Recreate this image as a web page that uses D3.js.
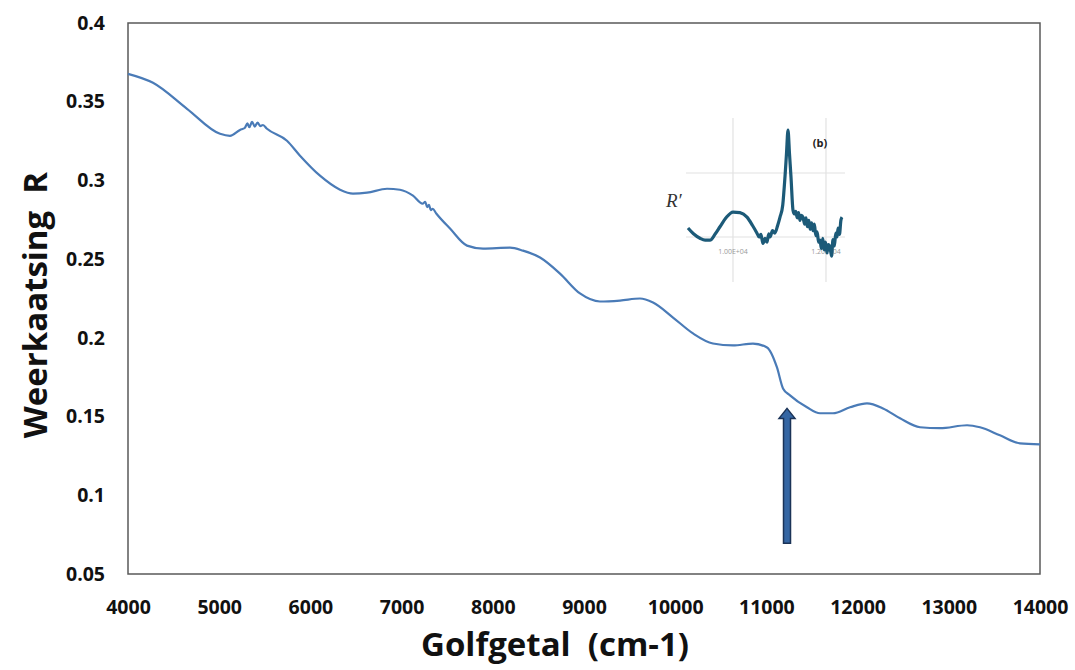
<!DOCTYPE html>
<html>
<head>
<meta charset="utf-8">
<script src="https://cdn.jsdelivr.net/npm/d3@7"></script>
<style>
  body { margin: 0; background: #fff; }
  text { font-family: "Open Sans", "DejaVu Sans", sans-serif; white-space: pre; }
</style>
</head>
<body>
<div id="chart"></div>
<script>
// Main spectrum: wavenumber (cm-1) and reflectance R
const wavenumbers = [4000, 4274, 4647, 5009, 5118, 5228, 5280, 5310, 5330, 5360, 5390, 5420, 5450, 5480, 5524,
  5743, 5886, 6105, 6325, 6467, 6621, 6840, 6982, 7125, 7230, 7260, 7280, 7300, 7320, 7340, 7380,
  7531, 7717, 7893, 8189, 8331, 8518, 8737, 8956, 9175, 9395, 9614, 9757, 9976, 10195, 10414,
  10634, 10853, 11007, 11116, 11182, 11259, 11445, 11588, 11730, 11917, 12103, 12279, 12465,
  12684, 12904, 13200, 13342, 13561, 13781, 14000];
const reflectance = [0.3677, 0.3620, 0.3455, 0.3296, 0.3283, 0.3321, 0.3333, 0.3362, 0.3338, 0.3372, 0.3342, 0.3368, 0.3345, 0.3352, 0.3328,
  0.3252, 0.3157, 0.3030, 0.2941, 0.2916, 0.2922, 0.2947, 0.2941, 0.2903, 0.2852, 0.2864, 0.2830, 0.2845, 0.2812, 0.2820, 0.2790,
  0.2694, 0.2586, 0.2567, 0.2573, 0.2554, 0.2510, 0.2408, 0.2282, 0.2231, 0.2237, 0.2250, 0.2224, 0.2129, 0.2028, 0.1964,
  0.1952, 0.1964, 0.1939, 0.1812, 0.1679, 0.1635, 0.1559, 0.1521, 0.1521, 0.1559, 0.1584, 0.1552, 0.1489,
  0.1432, 0.1426, 0.1445, 0.1432, 0.1381, 0.1330, 0.1324];

const xTicks = [4000, 5000, 6000, 7000, 8000, 9000, 10000, 11000, 12000, 13000, 14000];
const yTicks = [0.05, 0.1, 0.15, 0.2, 0.25, 0.3, 0.35, 0.4];
const yTickLabels = ["0.05", "0.1", "0.15", "0.2", "0.25", "0.3", "0.35", "0.4"];

// Arrow pointing at the shoulder
const arrowAt = 11226;
const arrowFrom = 0.0696;
const arrowTo = 0.1552;

// Inset (b): derivative R'
const insetWavenumbers = [9032, 9150, 9290, 9400, 9505, 9620, 9720, 9850, 10000, 10150, 10301, 10420, 10516,
  10560, 10600, 10645, 10690, 10730, 10770, 10796, 10850, 10900, 10960, 11011, 11070, 11118, 11150, 11183,
  11215, 11247, 11290, 11320, 11350, 11380, 11410, 11440, 11470, 11505, 11540, 11570, 11600, 11630, 11660,
  11690, 11720, 11750, 11780, 11810, 11840, 11871, 11900, 11930, 11960, 11990, 12022, 12050, 12086, 12120,
  12150, 12180, 12210, 12237, 12260, 12290, 12320, 12344];
const insetValues = [0.14, 0.05, -0.02, -0.05, -0.05, 0.05, 0.16, 0.30, 0.39, 0.38, 0.31, 0.18, 0.06,
  0.00, 0.04, -0.10, -0.02, -0.08, 0.05, 0.00, 0.10, 0.06, 0.18, 0.31, 0.50, 0.94, 1.30, 1.67,
  1.30, 0.94, 0.42, 0.36, 0.40, 0.30, 0.38, 0.26, 0.34, 0.31, 0.20, 0.30, 0.16, 0.26, 0.12,
  0.22, 0.10, 0.20, 0.02, 0.08, -0.08, -0.05, -0.18, -0.02, -0.20, -0.08, -0.25, -0.12, -0.16, -0.30,
  -0.04, -0.14, 0.06, 0.00, 0.14, 0.04, 0.26, 0.31];
const insetXTicks = [10000, 12000];
const insetXTickLabels = ["1.00E+04", "1.20E+04"];
const insetYGrid = [0, 1];

const width = 1075, height = 670;
const margin = { top: 23, right: 35, bottom: 96, left: 128 };
const innerW = width - margin.left - margin.right;
const innerH = height - margin.top - margin.bottom;

const svg = d3.select("#chart").append("svg")
  .attr("width", width)
  .attr("height", height);

const g = svg.append("g").attr("transform", `translate(${margin.left},${margin.top})`);

const x = d3.scaleLinear().domain([4000, 14000]).range([0, innerW]);
const y = d3.scaleLinear().domain([0.05, 0.4]).range([innerH, 0]);

// Plot frame
g.append("rect")
  .attr("width", innerW).attr("height", innerH)
  .attr("fill", "none").attr("stroke", "#595959").attr("stroke-width", 1.5);

// Axes (labels only, no tick marks)
const xAxis = g.append("g")
  .attr("transform", `translate(0,${innerH})`)
  .call(d3.axisBottom(x).tickValues(xTicks).tickSize(0).tickPadding(26).tickFormat(d3.format("d")));
xAxis.select(".domain").remove();
xAxis.selectAll("text").attr("font-size", 19.5).attr("font-weight", "bold").attr("fill", "#111");

const yAxis = g.append("g")
  .call(d3.axisLeft(y).tickValues(yTicks).tickSize(0).tickPadding(23).tickFormat((d, i) => yTickLabels[i]));
yAxis.select(".domain").remove();
yAxis.selectAll("text").attr("font-size", 19.5).attr("font-weight", "bold").attr("fill", "#111");

// Axis titles
svg.append("text")
  .attr("x", 555).attr("y", 656)
  .attr("text-anchor", "middle")
  .attr("font-size", 33).attr("font-weight", "bold").attr("fill", "#111")
  .text("Golfgetal  (cm-1)");

svg.append("text")
  .attr("transform", "translate(47,305) rotate(-90)")
  .attr("text-anchor", "middle")
  .attr("font-size", 33).attr("font-weight", "bold").attr("fill", "#111")
  .text("Weerkaatsing  R");

// Spectrum line
const spectrum = wavenumbers.map((w, i) => ({ w, r: reflectance[i] }));
g.append("path")
  .datum(spectrum)
  .attr("fill", "none")
  .attr("stroke", "#4a7bb7")
  .attr("stroke-width", 2.2)
  .attr("d", d3.line().x(d => x(d.w)).y(d => y(d.r)).curve(d3.curveMonotoneX));

// Arrow
const ax = x(arrowAt), ay0 = y(arrowFrom), ay1 = y(arrowTo);
const shaft = 3.5, head = 8, headH = 10;
g.append("path")
  .attr("d", `M${ax - shaft},${ay0} L${ax - shaft},${ay1 + headH} L${ax - head},${ay1 + headH}
    L${ax},${ay1} L${ax + head},${ay1 + headH} L${ax + shaft},${ay1 + headH} L${ax + shaft},${ay0} Z`)
  .attr("fill", "#3566a3")
  .attr("stroke", "#1b3357")
  .attr("stroke-width", 1.5);

// Inset (b)
const ix = d3.scaleLinear().domain([10000, 12000]).range([733, 826]);
const iy = d3.scaleLinear().domain([0, 1]).range([237, 173]);
const inset = svg.append("g");

inset.selectAll(".vgrid").data(insetXTicks).enter().append("line")
  .attr("x1", d => ix(d)).attr("x2", d => ix(d))
  .attr("y1", 118).attr("y2", 282)
  .attr("stroke", "#e2e2e2").attr("stroke-width", 1.2);
inset.selectAll(".hgrid").data(insetYGrid).enter().append("line")
  .attr("x1", 686).attr("x2", 845)
  .attr("y1", d => iy(d)).attr("y2", d => iy(d))
  .attr("stroke", "#e2e2e2").attr("stroke-width", 1.2);

inset.selectAll(".ilab").data(insetXTicks).enter().append("text")
  .attr("x", d => ix(d)).attr("y", 254)
  .attr("text-anchor", "middle")
  .attr("font-size", 7).attr("fill", "#9a9a9a")
  .text((d, i) => insetXTickLabels[i]);

const insetData = insetWavenumbers.map((w, i) => ({ w, v: insetValues[i] }));
inset.append("path")
  .datum(insetData)
  .attr("fill", "none")
  .attr("stroke", "#1c5a78")
  .attr("stroke-width", 3.2)
  .attr("stroke-linejoin", "round")
  .attr("d", d3.line().x(d => ix(d.w)).y(d => iy(d.v)).curve(d3.curveMonotoneX));

inset.append("text")
  .attr("x", 820).attr("y", 147)
  .attr("text-anchor", "middle")
  .attr("font-size", 11).attr("font-weight", "bold").attr("fill", "#222")
  .text("(b)");

inset.append("text")
  .attr("x", 666).attr("y", 207)
  .style("font-family", "'Liberation Serif', 'DejaVu Serif', serif")
  .style("font-style", "italic")
  .attr("font-size", 19).attr("fill", "#333")
  .text("R\u2032");
</script>
</body>
</html>
